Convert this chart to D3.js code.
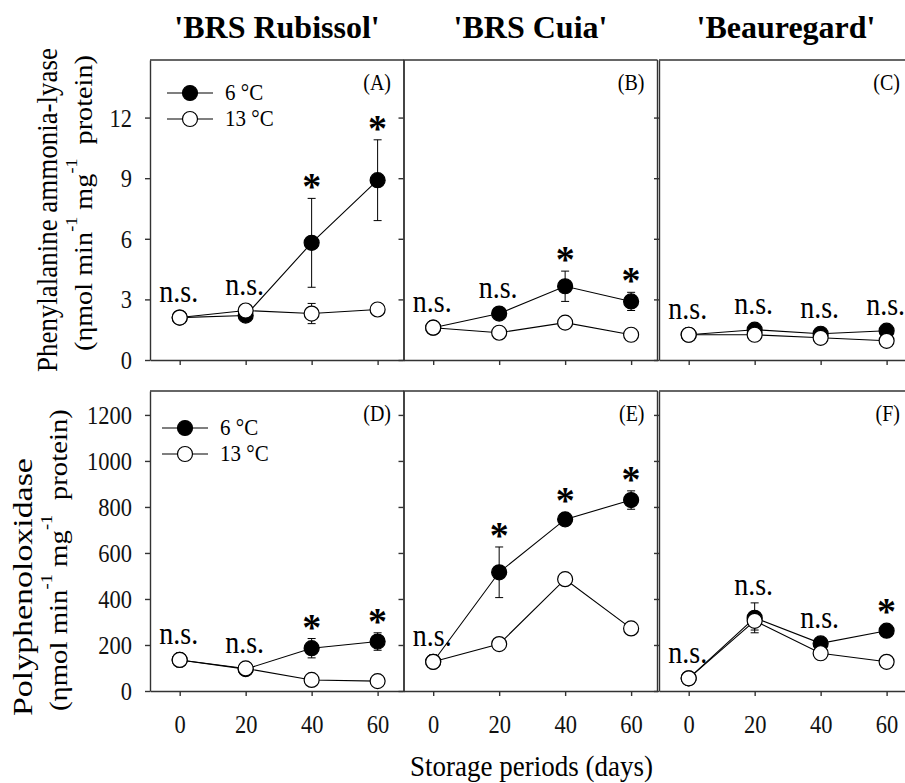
<!DOCTYPE html>
<html>
<head>
<meta charset="utf-8">
<script src="https://cdn.jsdelivr.net/npm/d3@7"></script>
<style>
  body { margin: 0; background: #fff; }
  svg { display: block; font-family: "Liberation Serif", "Times New Roman", serif; }
  text { white-space: pre; }
</style>
</head>
<body>
<svg id="chart" width="905" height="783"></svg>
<script>
// storage periods and cultivars
const days = [0, 20, 40, 60];
const cultivars = ["'BRS Rubissol'", "'BRS Cuia'", "'Beauregard'"];
const temps = ["6 °C", "13 °C"];
const panelTags = [["(A)", "(B)", "(C)"], ["(D)", "(E)", "(F)"]];

// phenylalanine ammonia-lyase, one row per cultivar
const pal6     = [[2.1, 2.2, 5.8, 8.9], [1.6, 2.3, 3.65, 2.9], [1.25, 1.5, 1.3, 1.45]];
const pal6Err  = [[0.1, 0.1, 2.2, 2.0], [0.1, 0.1, 0.75, 0.45], [0.05, 0.1, 0.1, 0.1]];
const pal13    = [[2.1, 2.45, 2.3, 2.5], [1.6, 1.35, 1.85, 1.25], [1.25, 1.25, 1.1, 0.95]];
const pal13Err = [[0.1, 0.1, 0.5, 0.15], [0.1, 0.1, 0.1, 0.1], [0.05, 0.05, 0.05, 0.05]];
const palSig   = [["n.s.", "n.s.", "*", "*"], ["n.s.", "n.s.", "*", "*"], ["n.s.", "n.s.", "n.s.", "n.s."]];
const palTicks = [0, 3, 6, 9, 12];

// polyphenoloxidase
const ppo6     = [[135, 95, 186, 215], [127, 516, 746, 830], [55, 318, 207, 262]];
const ppo6Err  = [[10, 10, 42, 38], [30, 110, 20, 40], [5, 65, 15, 20]];
const ppo13    = [[135, 98, 48, 43], [127, 204, 486, 272], [55, 305, 164, 127]];
const ppo13Err = [[10, 8, 10, 8], [10, 10, 10, 10], [5, 40, 10, 10]];
const ppoSig   = [["n.s.", "n.s.", "*", "*"], ["n.s.", "*", "*", "*"], ["n.s.", "n.s.", "n.s.", "*"]];
const ppoTicks = [0, 200, 400, 600, 800, 1000, 1200];

// y axis title pieces (second line is the same for both rows)
const unitPieces = [
  { text: "(ηmol min" }, { text: "-1", sup: true }, { text: " mg" },
  { text: "-1", sup: true }, { text: "  protein)" }
];

// layout
const W = 254;
const lefts = [150, 403.5, 659];
const SY = 1.12;   // the figure is a bit stretched vertically
const R = 7.5;
const axisCol = "#333";

const rows = [
  { m6: pal6, e6: pal6Err, m13: pal13, e13: pal13Err, sig: palSig, ticks: palTicks, yMax: 14.85,
    top: 60, bottom: 360, title: "Phenylalanine ammonia-lyase", legend: [190, 93],
    t1: { x: 57, cy: 210, len: 324, size: 29 }, t2: { x: 92, cy: 203, len: 296, size: 25 } },
  { m6: ppo6, e6: ppo6Err, m13: ppo13, e13: ppo13Err, sig: ppoSig, ticks: ppoTicks, yMax: 1304,
    top: 391, bottom: 691, title: "Polyphenoloxidase", legend: [185, 428],
    t1: { x: 32, cy: 587, len: 258, size: 28 }, t2: { x: 67, cy: 560, len: 302, size: 25 } }
];

const svg = d3.select("#chart");

// rotated label made of pieces, stretched to a target length
function rotatedLabel(o, pieces) {
  const g = svg.append("g");
  const t = g.append("text").attr("font-size", o.size);
  let pos = 0;
  pieces.forEach(p => {
    const ts = t.append("tspan")
      .attr("x", pos)
      .attr("y", p.sup ? -15 : 0)
      .attr("font-size", p.sup ? 16 : o.size)
      .text(p.text);
    pos += ts.node().getComputedTextLength();
  });
  const k = o.len / pos;
  g.attr("transform", "translate(" + o.x + "," + o.cy + ") rotate(-90) scale(" + k + ",1) translate(" + (-pos / 2) + ",0)");
}

// cultivar titles
cultivars.forEach((c, i) => {
  svg.append("text")
    .attr("x", lefts[i] + W / 2)
    .attr("y", 38)
    .attr("text-anchor", "middle")
    .attr("font-size", 32)
    .attr("font-weight", "bold")
    .text(c);
});

rows.forEach((row, r) => {
  const y = d3.scaleLinear().domain([0, row.yMax]).range([row.bottom, row.top]);

  rotatedLabel(row.t1, [{ text: row.title }]);
  rotatedLabel(row.t2, unitPieces);

  cultivars.forEach((c, col) => {
    const x = d3.scaleLinear().domain([-9, 68]).range([lefts[col], lefts[col] + W]);
    const g = svg.append("g");

    // frame: top and right lines
    g.append("line")
      .attr("x1", lefts[col]).attr("x2", lefts[col] + W)
      .attr("y1", row.top).attr("y2", row.top)
      .attr("stroke", axisCol).attr("stroke-width", 1.4);
    g.append("line")
      .attr("x1", lefts[col] + W).attr("x2", lefts[col] + W)
      .attr("y1", row.top).attr("y2", row.bottom)
      .attr("stroke", axisCol).attr("stroke-width", 1.4);

    // left axis
    const yAxis = d3.axisLeft(y)
      .tickValues(row.ticks)
      .tickSize(5).tickSizeOuter(0).tickPadding(13)
      .tickFormat(col === 0 ? d3.format("d") : () => "");
    const yG = g.append("g")
      .attr("transform", "translate(" + lefts[col] + ",0)")
      .call(yAxis);
    yG.attr("font-family", null).attr("font-size", 22.5);
    yG.selectAll("path, line").attr("stroke", axisCol).attr("stroke-width", 1.4);
    yG.selectAll("text").attr("fill", "#111").attr("dy", "0.34em").attr("transform", "scale(1," + SY + ")");

    // bottom axis
    const xAxis = d3.axisBottom(x)
      .tickValues(days)
      .tickSize(5).tickSizeOuter(0)
      .tickFormat(r === 1 ? d3.format("d") : () => "");
    const xG = g.append("g")
      .attr("transform", "translate(0," + row.bottom + ")")
      .call(xAxis);
    xG.attr("font-family", null).attr("font-size", 22.5);
    xG.selectAll("path, line").attr("stroke", axisCol).attr("stroke-width", 1.4);
    xG.selectAll("text").attr("fill", "#111").attr("dy", null)
      .attr("y", 41.7 / SY).attr("transform", "scale(1," + SY + ")");

    // series
    const series = [
      { m: row.m6[col], e: row.e6[col], fill: "#000" },
      { m: row.m13[col], e: row.e13[col], fill: "#fff" }
    ];
    const line = d3.line().x((d, i) => x(days[i])).y(d => y(d));

    series.forEach(s => {
      g.append("path")
        .attr("d", line(s.m))
        .attr("fill", "none")
        .attr("stroke", "#000")
        .attr("stroke-width", 1.1);
    });
    series.forEach(s => {
      s.m.forEach((v, i) => {
        const cx = x(days[i]);
        g.append("line")
          .attr("x1", cx).attr("x2", cx)
          .attr("y1", y(v - s.e[i])).attr("y2", y(v + s.e[i]))
          .attr("stroke", "#000").attr("stroke-width", 1);
        [v - s.e[i], v + s.e[i]].forEach(w => {
          g.append("line")
            .attr("x1", cx - 4).attr("x2", cx + 4)
            .attr("y1", y(w)).attr("y2", y(w))
            .attr("stroke", "#000").attr("stroke-width", 1);
        });
      });
      g.selectAll(null)
        .data(s.m)
        .join("circle")
        .attr("cx", (d, i) => x(days[i]))
        .attr("cy", d => y(d))
        .attr("r", R)
        .attr("fill", s.fill)
        .attr("stroke", "#000")
        .attr("stroke-width", 1.2);
    });

    // significance marks
    row.sig[col].forEach((lab, i) => {
      const top = d3.min(series, s => Math.min(y(s.m[i] + s.e[i]), y(s.m[i]) - R));
      if (lab === "*") {
        g.append("text")
          .attr("x", x(days[i]))
          .attr("y", top - 16 + 17)
          .attr("text-anchor", "middle")
          .attr("font-size", 38)
          .attr("font-weight", "bold")
          .text("*");
      } else {
        g.append("text")
          .attr("transform", "translate(" + (x(days[i]) - 1) + "," + (top - 8) + ") scale(1," + SY + ")")
          .attr("text-anchor", "middle")
          .attr("font-size", 28)
          .text(lab);
      }
    });

    // panel tag
    g.append("text")
      .attr("transform", "translate(" + (lefts[col] + W - 13) + "," + (row.top + 30) + ") scale(1," + SY + ")")
      .attr("text-anchor", "end")
      .attr("font-size", 20)
      .text(panelTags[r][col]);

    // legend in the first panel of each row
    if (col === 0) {
      const [lx, ly] = row.legend;
      temps.forEach((t, k) => {
        const yy = ly + k * 26;
        g.append("line")
          .attr("x1", lx - 23).attr("x2", lx + 23)
          .attr("y1", yy).attr("y2", yy)
          .attr("stroke", "#000").attr("stroke-width", 1.1);
        g.append("circle")
          .attr("cx", lx).attr("cy", yy).attr("r", R)
          .attr("fill", k === 0 ? "#000" : "#fff")
          .attr("stroke", "#000").attr("stroke-width", 1.2);
        g.append("text")
          .attr("transform", "translate(" + (lx + 35) + "," + (yy + 7) + ") scale(1," + SY + ")")
          .attr("font-size", 21)
          .text(t);
      });
    }
  });
});

// shared x axis title
svg.append("text")
  .attr("transform", "translate(" + (lefts[0] + lefts[2] + W) / 2 + ",776) scale(1," + SY + ")")
  .attr("text-anchor", "middle")
  .attr("font-size", 27)
  .text("Storage periods (days)");
</script>
</body>
</html>
